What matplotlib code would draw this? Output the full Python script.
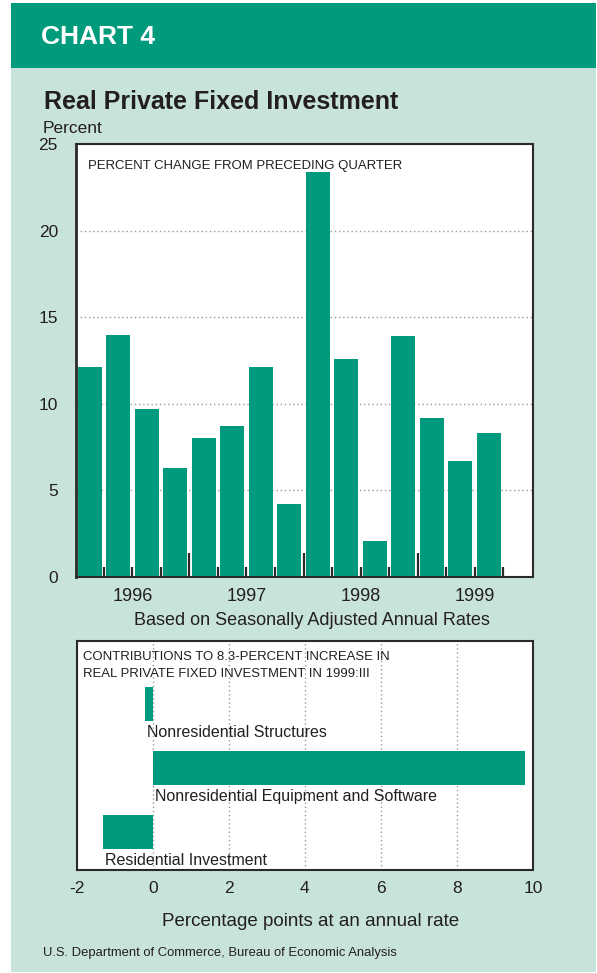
import numpy as np
import matplotlib
matplotlib.use("Agg")
import matplotlib.pyplot as plt
from matplotlib.patches import Rectangle
from matplotlib import font_manager as fm
from matplotlib.transforms import blended_transform_factory

# ---------------- data ----------------
years = ["1996", "1997", "1998", "1999"]
quarter_values = [12.1, 14.0, 9.7, 6.3, 8.0, 8.7, 12.1, 4.2,
                  23.4, 12.6, 2.1, 13.9, 9.2, 6.7, 8.3]
y_ticks = [0, 5, 10, 15, 20, 25]

contrib_labels = ["Nonresidential Structures",
                  "Nonresidential Equipment and Software",
                  "Residential Investment"]
contrib_values = [-0.2, 9.8, -1.3]
x_ticks_bottom = [-2, 0, 2, 4, 6, 8, 10]

# ---------------- style ----------------
GREEN = "#009B7D"
BG = "#C8E3DC"
DARK = "#231F20"
SPINE = "#2a2a2a"
GRID = "#9a9a9a"

W, H = 597, 973
names = {f.name for f in fm.fontManager.ttflist}
BASE = "Liberation Sans"
if "Liberation Sans Narrow" in names:
    NARROW, NS = "Liberation Sans Narrow", 1.0
else:
    NARROW, NS = "Liberation Sans", 0.82

fig = plt.figure(figsize=(W / 100, H / 100), dpi=100)
fig.patch.set_facecolor("white")


def fx(x):
    return x / W


def fy(y):
    return 1 - y / H


def rect_px(x0, y0, x1, y1):
    return [fx(x0), fy(y1), (x1 - x0) / W, (y1 - y0) / H]


# background panel and header
fig.patches.append(Rectangle((fx(11), fy(972)), (596 - 11) / W, (972 - 3) / H,
                             transform=fig.transFigure, facecolor=BG,
                             edgecolor="none", zorder=-10))
fig.patches.append(Rectangle((fx(11), fy(68)), (596 - 11) / W, (68 - 3) / H,
                             transform=fig.transFigure, facecolor=GREEN,
                             edgecolor="none", zorder=-9))

fig.text(fx(41), fy(44), "CHART 4", color="white", fontsize=19,
         fontweight="bold", family=BASE, va="baseline", ha="left")
fig.text(fx(44), fy(109), "Real Private Fixed Investment", color=DARK,
         fontsize=22 * NS, fontweight="bold", family=NARROW,
         va="baseline", ha="left")
fig.text(fx(43), fy(133), "Percent", color=DARK, fontsize=12.5,
         family=BASE, va="baseline", ha="left")

# ---------------- top chart ----------------
ax = fig.add_axes(rect_px(76, 144, 533, 577))
ax.set_zorder(2)
ax.set_facecolor("white")
x = np.arange(len(quarter_values))
ax.bar(x, quarter_values, width=0.84, color=GREEN, zorder=2)
ax.set_xlim(-0.48, 15.55)
ax.set_ylim(0, 25)
ax.set_yticks(y_ticks)
ax.set_yticklabels([str(v) for v in y_ticks], family=BASE, fontsize=12.5,
                   color=DARK)
ax.tick_params(axis="y", length=0, pad=13)
ax.yaxis.grid(True, color=GRID, linestyle=(0, (1, 2)), linewidth=1.0,
              zorder=1)
ax.set_axisbelow(True)

bounds = np.arange(len(quarter_values)) + 0.5
year_bounds = [b for b in bounds if (b + 0.5) % 4 == 0]
quarter_bounds = [b for b in bounds if (b + 0.5) % 4 != 0]
ax.set_xticks(year_bounds)
ax.set_xticks(quarter_bounds, minor=True)
ax.set_xticklabels([])
ax.tick_params(axis="x", which="major", direction="in", length=17,
               width=1.6, color=SPINE, top=False)
ax.tick_params(axis="x", which="minor", direction="in", length=7.5,
               width=1.6, color=SPINE, top=False)

trans = blended_transform_factory(ax.transData, fig.transFigure)
for i, yr in enumerate(years):
    ax.text(i * 4 + 1.5, fy(601), yr, transform=trans, ha="center",
            va="baseline", family=BASE, fontsize=13, color=DARK,
            clip_on=False)

for s in ax.spines.values():
    s.set_color(SPINE)
    s.set_linewidth(1.5)
ax.spines["left"].set_linewidth(2.0)

ax.text(fx(88), fy(168.5), "PERCENT CHANGE FROM PRECEDING QUARTER",
        transform=fig.transFigure, family=NARROW, fontsize=11.5 * NS,
        color=DARK, va="baseline", ha="left", zorder=5)

fig.text(fx(312), fy(625), "Based on Seasonally Adjusted Annual Rates",
         ha="center", va="baseline", family=BASE, fontsize=13, color=DARK)

# ---------------- bottom chart ----------------
ax2 = fig.add_axes(rect_px(76.7, 641, 533, 870))
ax2.set_zorder(2)
ax2.set_facecolor("white")
yp = np.arange(len(contrib_values))
ax2.barh(yp, contrib_values, height=0.52, color=GREEN, zorder=2)
ax2.set_xlim(-2, 10)
ax2.set_ylim(2.59, -0.98)
ax2.set_yticks([])
ax2.set_xticks(x_ticks_bottom)
ax2.set_xticklabels([str(v) for v in x_ticks_bottom], family=BASE,
                    fontsize=12.5, color=DARK)
ax2.tick_params(axis="x", length=0, pad=8)
ax2.xaxis.grid(True, color=GRID, linestyle=(0, (1, 2)), linewidth=1.0,
               zorder=1)
ax2.set_axisbelow(True)
for s in ax2.spines.values():
    s.set_color(SPINE)
    s.set_linewidth(1.5)

for i, (lab, v) in enumerate(zip(contrib_labels, contrib_values)):
    ax2.annotate(lab, xy=(min(v, 0), i + 0.26), xytext=(1.5, -3),
                 textcoords="offset points", ha="left", va="top",
                 family=BASE, fontsize=11.5, color=DARK, zorder=5)

ax2.text(fx(82.7), fy(659.5), "CONTRIBUTIONS TO 8.3-PERCENT INCREASE IN",
         transform=fig.transFigure, family=NARROW, fontsize=11.5 * NS,
         color=DARK, va="baseline", ha="left", zorder=5)
ax2.text(fx(82.7), fy(677), "REAL PRIVATE FIXED INVESTMENT IN 1999:III",
         transform=fig.transFigure, family=NARROW, fontsize=11.5 * NS,
         color=DARK, va="baseline", ha="left", zorder=5)

fig.text(fx(310.5), fy(926), "Percentage points at an annual rate",
         ha="center", va="baseline", family=BASE, fontsize=13.5, color=DARK)
fig.text(fx(43), fy(956),
         "U.S. Department of Commerce, Bureau of Economic Analysis",
         ha="left", va="baseline", family=NARROW, fontsize=11.4 * NS,
         color=DARK)

fig.savefig("out.png", dpi=100, facecolor=fig.get_facecolor())
